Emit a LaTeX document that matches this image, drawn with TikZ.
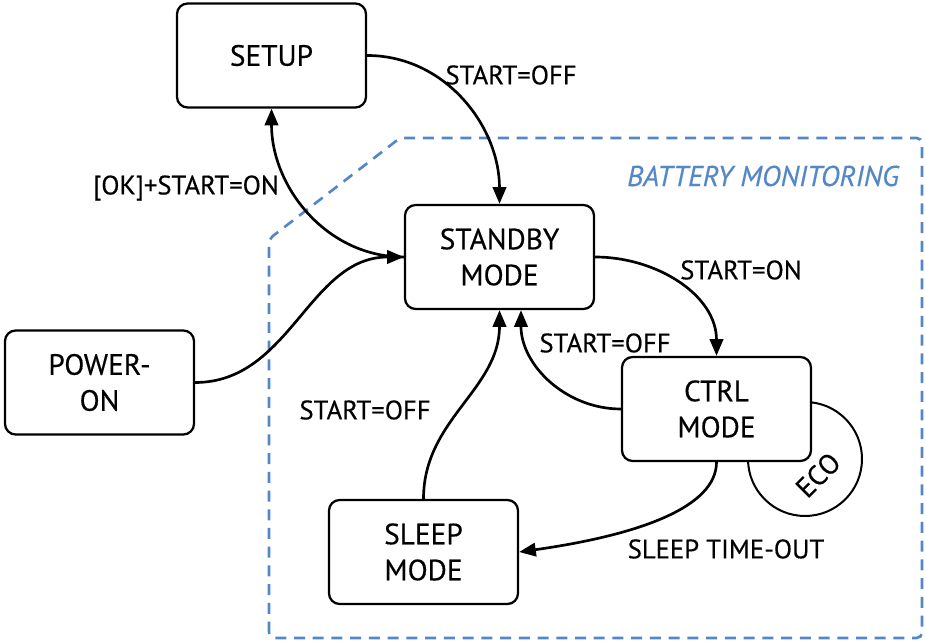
\documentclass[tikz,border=0pt]{standalone}
\usepackage{fontspec}
\setmainfont{PT Sans}[FakeBold=0.4]
\usetikzlibrary{arrows.meta}
\definecolor{monblue}{RGB}{84,135,200}
\tikzset{
  state/.style={draw, line width=1.7pt, rounded corners=8pt, fill=white,
    minimum width=141.75pt, minimum height=78pt, inner sep=0pt,
    align=center, font=\fontsize{22}{27}\selectfont},
  trans/.style={line width=2pt, -{Triangle[length=12.5pt,width=10pt]}},
  lbl/.style={inner sep=0.75pt, font=\fontsize{20}{24}\selectfont},
  monitor/.style={draw=monblue, line width=2pt, dash pattern=on 8.25pt off 5.8pt, rounded corners=4pt},
  ecoring/.style={draw, line width=1.5pt},
}
\begin{document}
\begin{tikzpicture}[x=0.75pt,y=0.75pt,yscale=-1,xscale=1]
\useasboundingbox (0,0) rectangle (926,641);

%Dashed region
\draw[monitor] (269,638) -- (269,239) -- (400,138) -- (922,138) -- (922,638) -- cycle;
% Text Node
\node[lbl, text=monblue, font=\fontsize{21.5}{25}\selectfont\itshape] (montxt) at (763,176) {BATTERY MONITORING};

%Circle
\coordinate (eco) at (805,459);
\draw[ecoring] (eco) circle[radius=57];

%Rounded Rect
\node[state] (setup) at (271.5,55.5) {SETUP};
%Rounded Rect
\node[state] (standby) at (499.5,257) {STANDBY\\MODE};
%Rounded Rect
\node[state] (power) at (99.5,382.5) {POWER-\\ON};
%Rounded Rect
\node[state] (ctrl) at (716.5,409) {CTRL\\MODE};
%Rounded Rect
\node[state] (sleep) at (423.5,552) {SLEEP\\MODE};

% Text Node
\node[lbl, rotate=45, font=\fontsize{21}{26}\selectfont] (ecotxt) at (818,475) {ECO};

%Curve Lines
\draw[trans] (setup.east) to[out=0,in=-90] (standby.north);
%Curve Lines
\draw[trans] (standby.west) to[out=180,in=90] (setup.south);
%Curve Lines
\draw[trans] (power.east) to[out=0,in=180] (standby.west);
%Curve Lines
\draw[trans] (standby.east) to[out=0,in=-90] (ctrl.north);
%Curve Lines
\draw[trans] (ctrl.west) to[out=180,in=90] (standby.-68.5);
%Curve Lines
\draw[trans] (sleep.north) to[out=-90,in=90] (standby.south);
%Curve Lines
\draw[trans] (ctrl.south) .. controls +(0,45) and +(120,-17) .. (sleep.east);

% Text Node
\node[lbl] (l1) at (511,75) {START=OFF};
% Text Node
\node[lbl] (l2) at (186,188) {[OK]+START=ON};
% Text Node
\node[lbl] (l3) at (741,270) {START=ON};
% Text Node
\node[lbl] (l4) at (605,343) {START=OFF};
% Text Node
\node[lbl] (l5) at (365,410) {START=OFF};
% Text Node
\node[lbl] (l6) at (726,549) {SLEEP TIME-OUT};

\end{tikzpicture}
\end{document}
